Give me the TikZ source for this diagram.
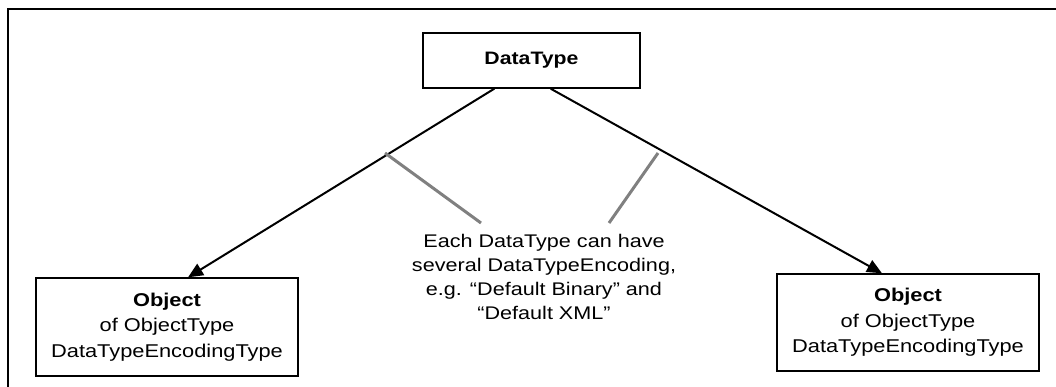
\documentclass[tikz,border=0pt]{standalone}
\usepackage{fontspec}
\setmainfont{Liberation Sans}[FakeStretch=1.18]
\usetikzlibrary{arrows.meta}
\definecolor{notegray}{RGB}{128,128,128}
\tikzset{
  box/.style={draw=black, line width=1.4pt, fill=white, inner sep=0pt, align=center},
  assoc/.style={draw=black, line width=2pt, -{Triangle[length=15pt,width=13pt]}},
  noteline/.style={draw=notegray, line width=3pt},
  notetext/.style={align=center, inner sep=0pt, font=\fontsize{18.3}{24}\selectfont},
}
\begin{document}
\begin{tikzpicture}[x=1pt,y=-1pt]
\useasboundingbox (0,0) rectangle (1056,387);
% outer frame (cropped)
\draw[line width=2pt] (1056,9) -- (8,9) -- (8,387);
% nodes
\node[box, minimum width=217pt, minimum height=55pt, font=\fontsize{18}{22}\selectfont\bfseries] (dt) at (531.5,60.5) {DataType};
\node[box, minimum width=262pt, minimum height=98pt, font=\fontsize{18.5}{25.5}\selectfont] (objL) at (167,327) {\textbf{Object}\\of ObjectType\\DataTypeEncodingType};
\node[box, minimum width=262pt, minimum height=97pt, font=\fontsize{18.5}{25.5}\selectfont] (objR) at (908,322.5) {\textbf{Object}\\of ObjectType\\DataTypeEncodingType};
\node[notetext] (note) at (544,277) {Each DataType can have\\several DataTypeEncoding,\\e.g. “Default Binary” and\\“Default XML”};
% connectors
\draw[assoc] ([xshift=72pt]dt.south west) -- ([xshift=21pt]objL.north);
\draw[assoc] ([xshift=-90pt]dt.south east) -- ([xshift=-26pt]objR.north);
% note lines
\coordinate (nl1) at (385,153);
\coordinate (nl2) at (658,153);
\coordinate (nt1) at (481,223);
\coordinate (nt2) at (609,223);
\draw[noteline] (nl1) -- (nt1);
\draw[noteline] (nl2) -- (nt2);
\end{tikzpicture}
\end{document}
